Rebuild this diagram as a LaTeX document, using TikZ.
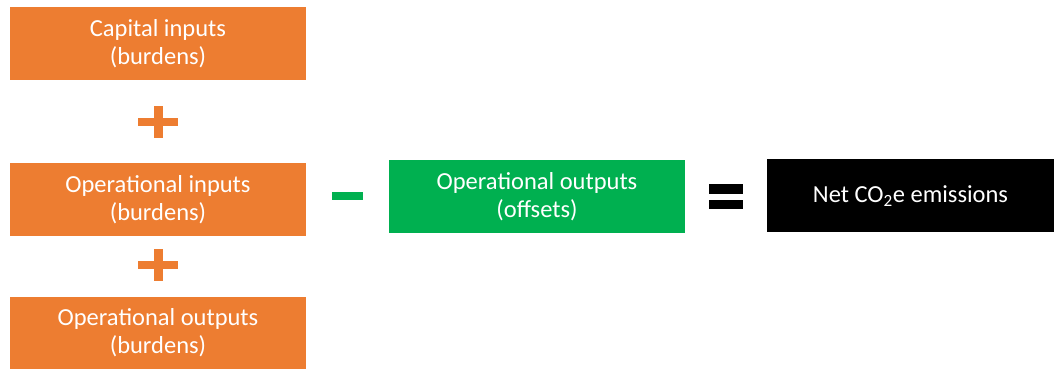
\documentclass[tikz,border=0pt]{standalone}
\usepackage{fontspec}
\setmainfont{Carlito}
\usepackage{xcolor}
\usepackage{tikz}
\usetikzlibrary{positioning, calc}

\definecolor{burden}{RGB}{237,125,49}
\definecolor{offset}{RGB}{0,176,80}

\begin{document}
\begin{tikzpicture}[x=1pt, y=1pt,
  box/.style={minimum width=296pt, minimum height=73pt, inner sep=0pt,
    text=white, align=center, font=\fontsize{24.5}{28}\selectfont},
  sign/.style={line width=8pt}]
  \useasboundingbox (0,0) rectangle (1054,369);
  % Burdens, left column
  \node[box, fill=burden] (capin) at (158,325) {Capital inputs\\(burdens)};
  \node[box, fill=burden] (opin) at (158,169) {Operational inputs\\(burdens)};
  \node[box, fill=burden, minimum height=72pt] (opoutb) at (158,36) {Operational outputs\\(burdens)};
  % Offsets and result
  \node[box, fill=offset] (opouto) at (537,172.5) {Operational outputs\\(offsets)};
  \node[box, fill=black, minimum width=287pt] (net) at (910.5,173) {Net CO\textsubscript{2}e emissions};
  % Operators
  \coordinate (plusA) at (158,247);
  \coordinate (plusB) at (158,104);
  \coordinate (minus) at (347.5,172.5);
  \coordinate (equal) at (726,172);
  \foreach \p in {plusA, plusB} {
    \draw[sign, burden] (\p) ++(-20,0) -- ++(40,0);
    \draw[sign, burden, line width=9pt] (\p) ++(0,-16) -- ++(0,32);
  }
  \draw[sign, offset] (minus) ++(-15.5,0) -- ++(31,0);
  \draw[sign, line width=10pt] (equal) ++(-17,8) -- ++(34,0);
  \draw[sign, line width=9pt] (equal) ++(-17,-7.5) -- ++(34,0);
\end{tikzpicture}
\end{document}
